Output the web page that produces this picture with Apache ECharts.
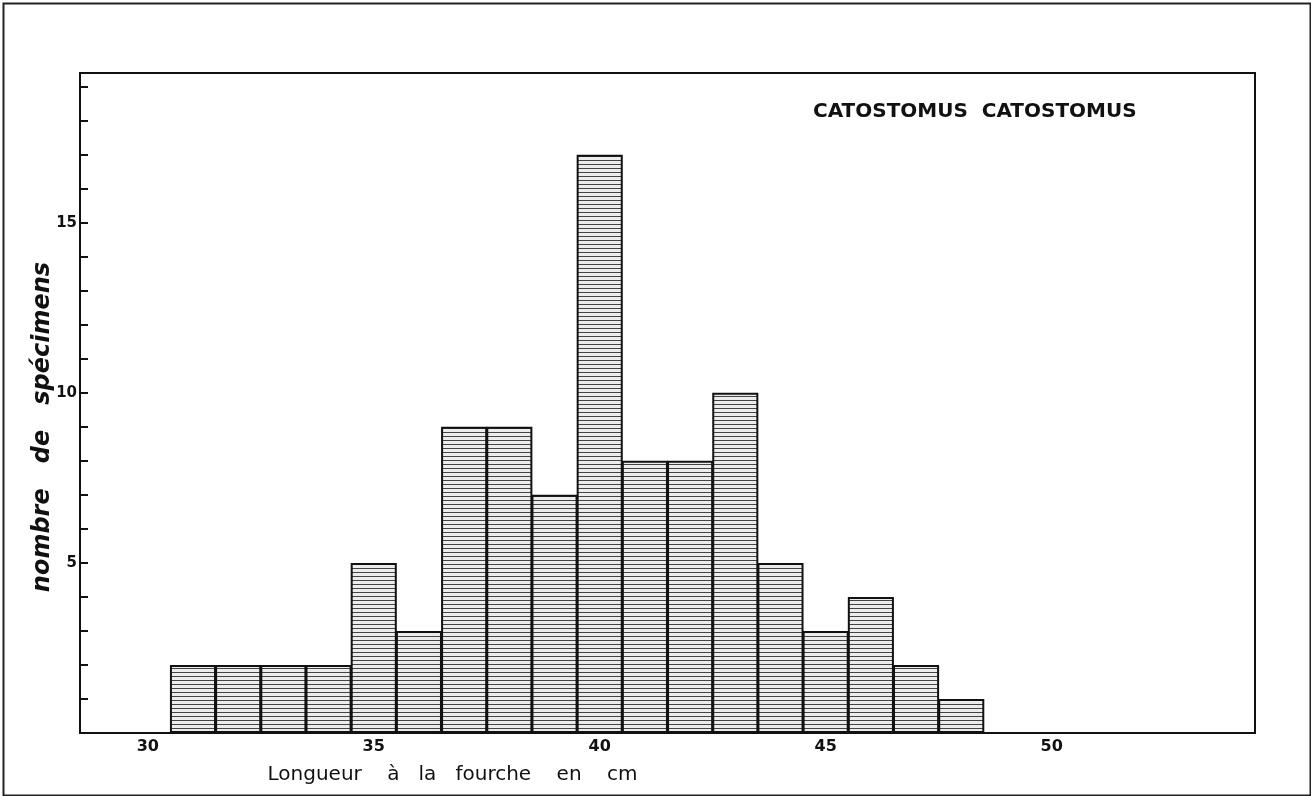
<!DOCTYPE html>
<html>
<head>
<meta charset="utf-8">
<script src="https://cdn.jsdelivr.net/npm/echarts@6/dist/echarts.min.js"></script>
<style>
  html, body { margin: 0; padding: 0; background: #fff; }
  #main { width: 1311px; height: 796px; }
</style>
</head>
<body>
<div id="main"></div>
<script>
// axis categories (cm), one band per centimetre
var axisCats = [29, 30, 31, 32, 33, 34, 35, 36, 37, 38, 39, 40, 41, 42, 43, 44, 45, 46, 47, 48, 49, 50, 51, 52, 53, 54];
var xLabels = [30, 35, 40, 45, 50];
// histogram: length classes and number of specimens
var lengths = [31, 32, 33, 34, 35, 36, 37, 38, 39, 40, 41, 42, 43, 44, 45, 46, 47, 48];
var counts  = [2, 2, 2, 2, 5, 3, 9, 9, 7, 17, 8, 8, 10, 5, 3, 4, 2, 1];
var yLabels = [5, 10, 15];

// horizontal hatching pattern
var pat = document.createElement('canvas');
pat.width = 8; pat.height = 4;
var ctx = pat.getContext('2d');
ctx.fillStyle = '#ececec';
ctx.fillRect(0, 0, 8, 4);
ctx.fillStyle = '#444';
ctx.fillRect(0, 0, 8, 1);

var barData = axisCats.map(function (c) {
  var i = lengths.indexOf(c);
  return i < 0 ? null : counts[i];
});

var chart = echarts.init(document.getElementById('main'));
var font = '"DejaVu Sans", sans-serif';
var option = {
  animation: false,
  backgroundColor: '#fff',
  title: {
    text: 'CATOSTOMUS  CATOSTOMUS',
    left: 808, top: 97,
    textStyle: { fontFamily: font, fontSize: 20, fontWeight: 'bold', color: '#111' }
  },
  graphic: [{
    type: 'rect', left: 1, top: 1,
    shape: { width: 1307, height: 792 },
    style: { fill: 'none', stroke: '#222', lineWidth: 2 }
  }],
  grid: {
    left: 80, right: 56, top: 73, bottom: 63,
    show: true, borderColor: '#111', borderWidth: 2
  },
  xAxis: {
    type: 'category',
    data: axisCats,
    boundaryGap: true,
    name: 'Longueur    à   la   fourche    en    cm',
    nameLocation: 'middle',
    nameGap: 32,
    nameTextStyle: { fontFamily: font, fontSize: 20, color: '#111', padding: [0, 430, 0, 0] },
    axisLine: { lineStyle: { color: '#111', width: 2 } },
    axisTick: { inside: true, length: 6, interval: 0, lineStyle: { color: '#111', width: 2 } },
    axisLabel: {
      interval: function (idx, val) { return xLabels.indexOf(Number(val)) >= 0; },
      fontFamily: font, fontSize: 16, fontWeight: 'bold', color: '#111', margin: 6
    },
    splitLine: { show: false }
  },
  yAxis: {
    type: 'value',
    min: 0, max: 19.4, interval: 1,
    name: 'nombre   de   spécimens',
    nameLocation: 'middle',
    nameGap: 25,
    nameMoveOverlap: false,
    nameTextStyle: { fontFamily: font, fontSize: 24, fontWeight: 'bold', fontStyle: 'italic', color: '#111', padding: [0, 48, 0, 0] },
    axisLine: { show: true, lineStyle: { color: '#111', width: 2 } },
    axisTick: { show: true, inside: true, length: 8, lineStyle: { color: '#111', width: 2 } },
    axisLabel: {
      formatter: function (v) { return yLabels.indexOf(v) >= 0 ? String(v) : ''; },
      fontFamily: font, fontSize: 15, fontWeight: 'bold', color: '#111', margin: 3
    },
    splitLine: { show: false }
  },
  series: [{
    type: 'bar',
    data: barData,
    barWidth: '102%',
    itemStyle: {
      color: { image: pat, repeat: 'repeat' },
      borderColor: '#111',
      borderWidth: 2
    }
  }]
};
chart.setOption(option);
</script>
</body>
</html>
